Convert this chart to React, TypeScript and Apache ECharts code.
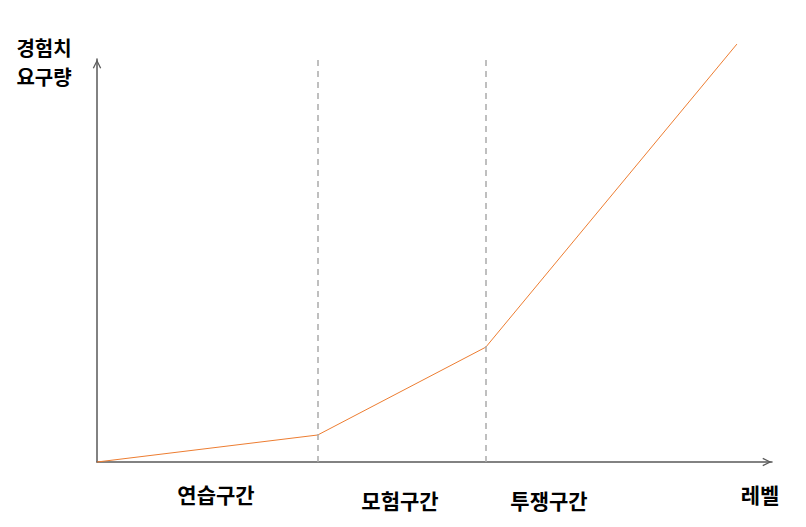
import React, { useEffect, useRef } from "react";
import * as echarts from "echarts";

const levels = [0, 32.7, 57.6, 94.8];
const expRequired = [0, 6.7, 28.5, 103.7];
const boundaries = [32.7, 57.6];
const sectionNames = ["연습구간", "모험구간", "투쟁구간"];
const xName = "레벨";
const yNameLines = ["경험치", "요구량"];

const FONT = "'Noto Sans CJK KR', sans-serif";
const ARROW = "path://M0,10 L5,0 L10,10 L8.6,10.6 L5,3 L1.4,10.6 Z";

export default function App() {
  const ref = useRef<HTMLDivElement>(null);
  useEffect(() => {
    if (!ref.current) return;
    const chart = echarts.init(ref.current, null, { renderer: "svg" });
    const axisLine = {
      show: true,
      symbol: ["none", ARROW],
      symbolSize: [10, 9],
      symbolOffset: [0, -5],
      lineStyle: { color: "#595959", width: 1.5 },
    };
    const labelStyle = { fontFamily: FONT, fontSize: 21, fontWeight: "bold", fill: "#000" };
    const sectionPos = [
      [216, 494],
      [400, 500],
      [549, 500],
    ];
    const yNamePos = [
      [44, 47],
      [44, 76],
    ];
    chart.setOption({
      animation: false,
      backgroundColor: "#fff",
      grid: { left: 97, right: 34, top: 59, bottom: 65 },
      xAxis: {
        type: "value",
        min: 0,
        max: 100,
        axisLine,
        axisTick: { show: false },
        axisLabel: { show: false },
        splitLine: { show: false },
      },
      yAxis: {
        type: "value",
        min: 0,
        max: 100,
        axisLine,
        axisTick: { show: false },
        axisLabel: { show: false },
        splitLine: { show: false },
      },
      graphic: [
        ...yNameLines.map((t, i) => ({
          type: "text",
          x: yNamePos[i][0],
          y: yNamePos[i][1],
          style: {
            ...labelStyle,
            fontSize: 20,
            text: t,
            textAlign: "center",
            textVerticalAlign: "middle",
          },
        })),
        {
          type: "text",
          x: 760,
          y: 494,
          style: { ...labelStyle, text: xName, textAlign: "center", textVerticalAlign: "middle" },
        },
        ...sectionNames.map((t, i) => ({
          type: "text",
          x: sectionPos[i][0],
          y: sectionPos[i][1],
          style: { ...labelStyle, text: t, textAlign: "center", textVerticalAlign: "middle" },
        })),
      ],
      series: [
        {
          type: "line",
          data: levels.map((x, i) => [x, expRequired[i]]),
          showSymbol: false,
          symbol: "none",
          clip: false,
          lineStyle: { color: "#ED7D31", width: 1 },
          markLine: {
            silent: true,
            symbol: "none",
            label: { show: false },
            lineStyle: { color: "#ABABAB", type: [6, 5], width: 1.5 },
            data: boundaries.map((b) => ({ xAxis: b })),
          },
        },
      ],
    });
    return () => chart.dispose();
  }, []);
  return (
    <div
      ref={ref}
      style={{ position: "fixed", left: 0, top: 0, width: 806, height: 527 }}
    />
  );
}
